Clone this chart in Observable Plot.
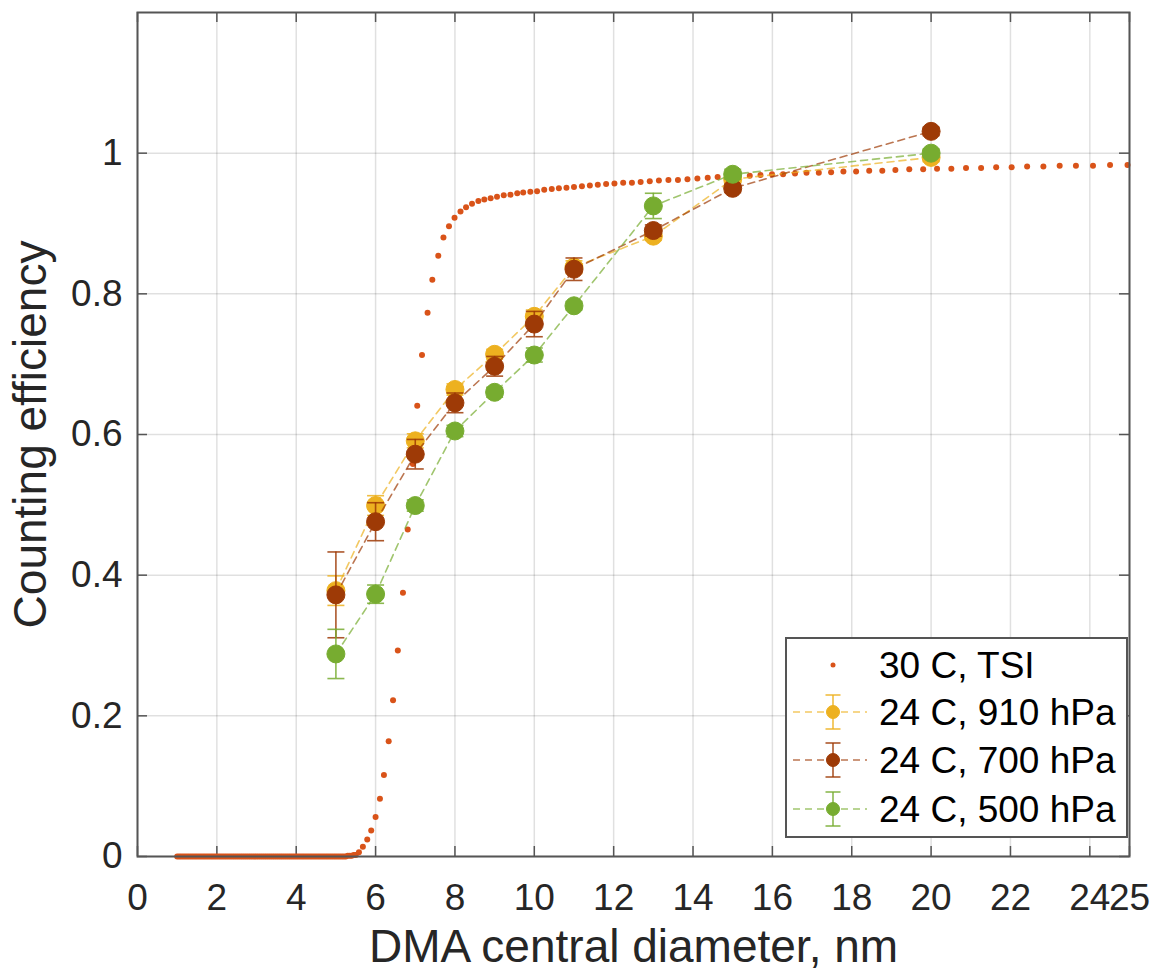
<!DOCTYPE html>
<html><head><meta charset="utf-8">
<script src="https://cdn.jsdelivr.net/npm/d3@7"></script>
<script src="https://cdn.jsdelivr.net/npm/@observablehq/plot@0.6"></script>
<style>
body{margin:0;background:#fff;}
#wrap{position:relative;width:1154px;height:977px;overflow:hidden;}
#legend{position:absolute;left:785px;top:637px;}
</style></head><body><div id="wrap"></div>
<script>
// ---- data ----
const xTicks = [0,2,4,6,8,10,12,14,16,18,20,22,24,25];
const yTicks = [0,0.2,0.4,0.6,0.8,1];

const diam = [5,6,7,8,9,10,11,13,15,20];
const eff910 = [0.378,0.499,0.591,0.664,0.714,0.768,0.838,0.882,0.963,0.994];
const err910 = [0.021,0.014,0.010,0.008,0.007,0.009,0.009,0.006,0.005,0.006];
const eff700 = [0.372,0.476,0.572,0.645,0.697,0.757,0.835,0.890,0.950,1.031];
const err700 = [0.061,0.027,0.021,0.014,0.014,0.018,0.016,0.008,0.006,0.006];
const eff500 = [0.288,0.373,0.499,0.605,0.660,0.713,0.783,0.925,0.970,1.000];
const err500 = [0.035,0.013,0.008,0.008,0.007,0.010,0.006,0.018,0.007,0.006];

const tsiD = [1.0,1.05,1.1,1.15,1.2,1.25,1.3,1.35,1.4,1.45,1.5,1.55,1.6,1.65,1.7,1.75,1.8,1.85,1.9,1.95,
  2.0,2.05,2.1,2.15,2.2,2.25,2.3,2.35,2.4,2.45,2.5,2.55,2.6,2.65,2.7,2.75,2.8,2.85,2.9,2.95,
  3.0,3.05,3.1,3.15,3.2,3.25,3.3,3.35,3.4,3.45,3.5,3.55,3.6,3.65,3.7,3.75,3.8,3.85,3.9,3.95,
  4.0,4.05,4.1,4.15,4.2,4.25,4.3,4.35,4.4,4.45,4.5,4.55,4.6,4.65,4.7,4.75,4.8,4.85,4.9,4.95,
  5.0,5.05,5.1,5.15,5.2,5.25,5.3,5.35,5.4,5.45,5.5,
  5.58,5.68,5.79,5.89,6.00,6.11,6.21,6.33,6.44,6.56,6.69,6.81,6.94,7.05,7.17,7.31,7.43,7.58,7.71,
  7.85,7.99,8.14,8.28,8.43,8.59,8.74,8.90,9.06,9.23,9.40,9.57,9.72,
  9.90,10.07,10.25,10.44,10.62,10.81,11.0,11.2,11.4,11.6,11.81,12.02,12.24,12.46,12.68,12.91,13.14,13.38,13.62,13.86,
  14.11,14.37,14.62,14.89,15.15,15.43,15.7,15.99,16.27,16.57,16.86,17.17,17.48,17.79,18.11,18.44,18.77,19.1,19.45,19.8,
  20.15,20.51,20.88,21.26,21.64,22.03,22.42,22.83,23.24,23.65,24.08,24.51,24.95];
const tsiEff = [0,0,0,0,0,0,0,0,0,0,0,0,0,0,0,0,0,0,0,0,
  0,0,0,0,0,0,0,0,0,0,0,0,0,0,0,0,0,0,0,0,
  0,0,0,0,0,0,0,0,0,0,0,0,0,0,0,0,0,0,0,0,
  0,0,0,0,0,0,0,0,0,0,0,0,0,0,0,0,0,0,0,0,
  0,0,0,0,0,0,0.001,0.001,0.001,0.002,0.002,
  0.006,0.014,0.024,0.037,0.056,0.082,0.116,0.164,0.222,0.293,0.375,0.465,0.558,0.641,0.713,0.773,0.820,0.854,0.880,
  0.896,0.908,0.917,0.923,0.928,0.932,0.934,0.936,0.938,0.940,0.941,0.943,0.944,
  0.945,0.946,0.948,0.949,0.950,0.951,0.952,0.953,0.954,0.955,0.956,0.957,0.958,0.958,0.959,0.960,0.961,0.962,0.962,0.963,
  0.964,0.965,0.966,0.967,0.967,0.968,0.969,0.970,0.970,0.971,0.972,0.972,0.973,0.974,0.974,0.975,0.975,0.976,0.977,0.977,
  0.978,0.978,0.979,0.979,0.980,0.980,0.981,0.981,0.982,0.982,0.982,0.983,0.983];

const seriesNames = ["30 C, TSI","24 C, 910 hPa","24 C, 700 hPa","24 C, 500 hPa"];
const colors = ["#D95319","#EDB120","#9E3A06","#77AC30"];

// ---- layout ----
const W = 1154, H = 977, mL = 137, mR = 25, mT = 12, mB = 121;
const plotW = W - mL - mR, plotH = H - mT - mB;
const font = "'Liberation Sans', Arial, Helvetica, sans-serif";
const frameColor = "#555555";
const textColor = "#262626";

const tsi = tsiD.map((d, i) => ({d, e: tsiEff[i]}));
const mk = (eff, err) => diam.map((d, i) => ({d, e: eff[i], lo: eff[i] - err[i], hi: eff[i] + err[i]}));
const s910 = mk(eff910, err910), s700 = mk(eff700, err700), s500 = mk(eff500, err500);

const cap = {draw(ctx, size) { const r = Math.sqrt(size / Math.PI); ctx.moveTo(-r, 0); ctx.lineTo(r, 0); }};

function seriesMarks(rows, color) {
  return [
    Plot.line(rows, {x: "d", y: "e", stroke: color, strokeWidth: 1.6, strokeOpacity: 0.7, strokeDasharray: "7,5"}),
    Plot.ruleX(rows, {x: "d", y1: "lo", y2: "hi", stroke: color, strokeWidth: 1.6, strokeOpacity: 0.85}),
    Plot.dot(rows, {x: "d", y: "lo", symbol: cap, r: 8.5, stroke: color, strokeWidth: 1.6, strokeOpacity: 0.85}),
    Plot.dot(rows, {x: "d", y: "hi", symbol: cap, r: 8.5, stroke: color, strokeWidth: 1.6, strokeOpacity: 0.85}),
    Plot.dot(rows, {x: "d", y: "e", r: 9, fill: color, stroke: color, strokeWidth: 1})
  ];
}

const chart = Plot.plot({
  width: W, height: H,
  marginLeft: mL, marginRight: mR, marginTop: mT, marginBottom: mB,
  x: {domain: [0, 25]},
  y: {domain: [0, 1.2]},
  style: {fontFamily: font, color: textColor, background: "white", overflow: "visible"},
  marks: [
    Plot.ruleX(xTicks, {stroke: "#000", strokeOpacity: 0.12, strokeWidth: 1.5}),
    Plot.ruleY(yTicks, {stroke: "#000", strokeOpacity: 0.12, strokeWidth: 1.5}),
    Plot.ruleX(xTicks, {stroke: frameColor, strokeWidth: 1.5, insetTop: plotH - 10}),
    Plot.ruleX(xTicks, {stroke: frameColor, strokeWidth: 1.5, insetBottom: plotH - 10}),
    Plot.ruleY(yTicks, {stroke: frameColor, strokeWidth: 1.5, insetRight: plotW - 10}),
    Plot.ruleY(yTicks, {stroke: frameColor, strokeWidth: 1.5, insetLeft: plotW - 10}),
    Plot.dot(tsi, {x: "d", y: "e", r: 3, fill: colors[0]}),
    ...seriesMarks(s910, colors[1]),
    ...seriesMarks(s700, colors[2]),
    ...seriesMarks(s500, colors[3]),
    Plot.frame({stroke: frameColor, strokeWidth: 2}),
    Plot.axisX({ticks: xTicks, tickSize: 0, tickPadding: 27, fontSize: 37, tickFormat: d => String(d), label: null}),
    Plot.axisY({ticks: yTicks, tickSize: 0, tickPadding: 15, fontSize: 37, tickFormat: d => String(d), label: null}),
    Plot.text(["DMA central diameter, nm"], {text: d => d, frameAnchor: "bottom", textAnchor: "middle", dy: 91, fontSize: 46, lineAnchor: "middle", fill: textColor}),
    Plot.text(["Counting efficiency"], {text: d => d, frameAnchor: "left", textAnchor: "middle", dx: -106, rotate: -90, fontSize: 46, lineAnchor: "middle", fill: textColor})
  ]
});
const wrap = document.getElementById("wrap");
wrap.appendChild(chart);

// ---- legend ----
const lg = d3.select(wrap).append("svg").attr("id", "legend")
  .attr("width", 344).attr("height", 202)
  .style("font-family", font);
lg.append("rect").attr("x", 1).attr("y", 1).attr("width", 341).attr("height", 199)
  .attr("fill", "white").attr("stroke", frameColor).attr("stroke-width", 2);
const rowY = [28, 75, 123, 172];
const sx = 48;
seriesNames.forEach((name, i) => {
  const g = lg.append("g").attr("transform", `translate(0,${rowY[i]})`);
  const c = colors[i];
  if (i === 0) {
    g.append("circle").attr("cx", sx).attr("cy", 0).attr("r", 2.5).attr("fill", c);
  } else {
    g.append("line").attr("x1", 8).attr("x2", 82).attr("y1", 0).attr("y2", 0)
      .attr("stroke", c).attr("stroke-width", 1.6).attr("stroke-opacity", 0.7).attr("stroke-dasharray", "7,5");
    g.append("line").attr("x1", sx).attr("x2", sx).attr("y1", -17).attr("y2", 17)
      .attr("stroke", c).attr("stroke-width", 1.6).attr("stroke-opacity", 0.85);
    [-17, 17].forEach(yy => g.append("line").attr("x1", sx - 7.5).attr("x2", sx + 7.5).attr("y1", yy).attr("y2", yy)
      .attr("stroke", c).attr("stroke-width", 1.6).attr("stroke-opacity", 0.85));
    g.append("circle").attr("cx", sx).attr("cy", 0).attr("r", 6.5).attr("fill", c).attr("stroke", c);
  }
  g.append("text").attr("x", 94).attr("y", 0).attr("dy", "0.35em")
    .attr("font-size", 37).attr("fill", "#000").text(name);
});
</script>
</body></html>
